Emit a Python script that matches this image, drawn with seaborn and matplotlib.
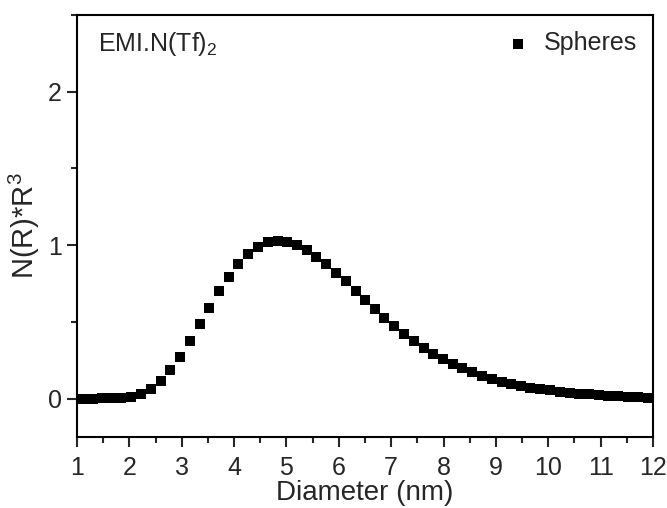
import numpy as np
import pandas as pd
import matplotlib
matplotlib.use('Agg')
import matplotlib.pyplot as plt
import seaborn as sns
from matplotlib.ticker import MultipleLocator

# data
diameter = [1.11, 1.30, 1.48, 1.67, 1.85, 2.04, 2.22, 2.41, 2.60, 2.78,
            2.97, 3.15, 3.34, 3.53, 3.71, 3.90, 4.08, 4.27, 4.46, 4.64,
            4.83, 5.01, 5.20, 5.39, 5.57, 5.76, 5.94, 6.13, 6.32, 6.50,
            6.69, 6.87, 7.06, 7.25, 7.43, 7.62, 7.80, 7.99, 8.18, 8.36,
            8.55, 8.73, 8.92, 9.11, 9.29, 9.48, 9.66, 9.85, 10.04, 10.22,
            10.41, 10.59, 10.78, 10.97, 11.15, 11.34, 11.52, 11.71, 11.90]
nr3 = [0.000, 0.000, 0.001, 0.002, 0.004, 0.012, 0.030, 0.063, 0.118, 0.187,
       0.274, 0.373, 0.484, 0.590, 0.700, 0.792, 0.875, 0.945, 0.990, 1.020,
       1.030, 1.023, 1.000, 0.970, 0.925, 0.875, 0.820, 0.765, 0.700, 0.643,
       0.584, 0.528, 0.474, 0.421, 0.376, 0.332, 0.293, 0.259, 0.226, 0.197,
       0.171, 0.148, 0.126, 0.108, 0.094, 0.081, 0.071, 0.062, 0.053, 0.046,
       0.039, 0.033, 0.027, 0.022, 0.018, 0.014, 0.011, 0.008, 0.005]
series_name = 'Spheres'
sample_label = 'EMI.N(Tf)$_2$'

df = pd.DataFrame({'Diameter (nm)': diameter, 'N(R)*R$^3$': nr3})

sns.set_style('ticks')
plt.rcParams['font.family'] = ['Liberation Sans', 'DejaVu Sans']
plt.rcParams['mathtext.default'] = 'regular'

fig = plt.figure(figsize=(6.67, 5.08), dpi=100)
ax = fig.add_axes([0.1154, 0.1398, 0.8636, 0.8307])

sns.scatterplot(data=df, x='Diameter (nm)', y='N(R)*R$^3$', ax=ax,
                marker='s', s=52, color='black', linewidth=0, label=series_name)

ax.set_xlim(1, 12)
ax.set_ylim(-0.25, 2.5)
ax.xaxis.set_major_locator(MultipleLocator(1))
ax.xaxis.set_minor_locator(MultipleLocator(0.5))
ax.yaxis.set_major_locator(MultipleLocator(1))
ax.yaxis.set_minor_locator(MultipleLocator(0.5))
ax.tick_params(which='major', direction='out', length=7, width=1.5, labelsize=18,
               top=False, right=False)
ax.tick_params(axis='x', which='major', pad=7)
ax.tick_params(axis='y', which='major', pad=4)
ax.tick_params(which='minor', direction='out', length=4, width=1.5,
               top=False, right=False)
for sp in ax.spines.values():
    sp.set_linewidth(1.5)
    sp.set_color('black')

ax.set_xlabel('Diameter (nm)', fontsize=20, labelpad=0)
ax.set_ylabel('N(R)*R$^3$', fontsize=21, labelpad=4)

ax.text(0.036, 0.932, sample_label, transform=ax.transAxes, fontsize=18,
        ha='left', va='center')

leg = ax.legend(loc='upper right', frameon=False, fontsize=18, handlelength=1.0,
                handletextpad=0.5, borderaxespad=0.35, borderpad=0.3)

fig.savefig('out.png', dpi=100)
